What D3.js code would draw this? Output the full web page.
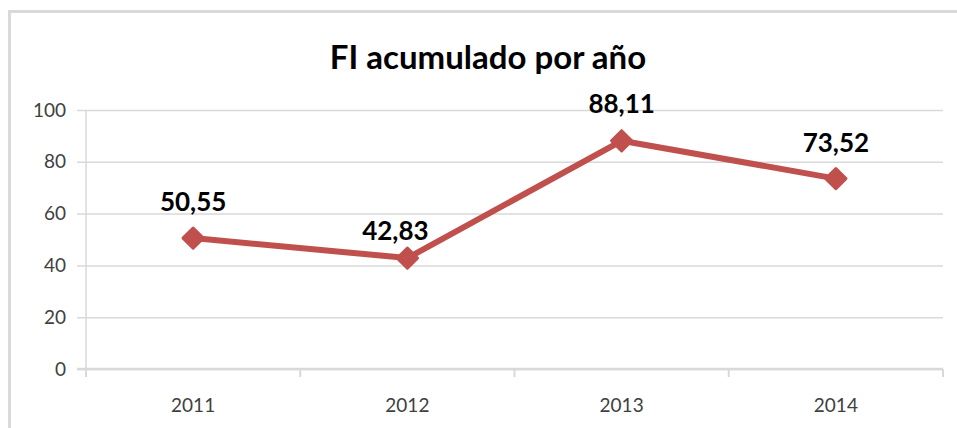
<!DOCTYPE html>
<html><head><meta charset="utf-8">
<script src="https://cdn.jsdelivr.net/npm/d3@7/dist/d3.min.js"></script>
<style>body{margin:0;background:#fff;} svg{display:block;}</style>
</head><body>
<svg id="chart" width="957" height="428"></svg>
<script>
const title = "FI acumulado por año";
const categories = ["2011", "2012", "2013", "2014"];
const values = [50.55, 42.83, 88.11, 73.52];
const valueLabels = ["50,55", "42,83", "88,11", "73,52"];
const yTicks = [0, 20, 40, 60, 80, 100];

const svg = d3.select("#chart");
const W = 957, H = 428;
const m = {left: 86, right: 14, top: 110, bottom: 59};
const x = d3.scaleBand().domain(categories).range([m.left, W - m.right]);
const y = d3.scaleLinear().domain([0, 100]).range([H - m.bottom, m.top]);
const font = "Lato, 'Open Sans', sans-serif";

// chart border
svg.append("path").attr("d", `M9.5,${H} V11.5 H${W}`).attr("fill", "none")
  .attr("stroke", "#d9d9d9").attr("stroke-width", 3);

// title
svg.append("text").attr("x", 488).attr("y", 69).attr("text-anchor", "middle")
  .attr("font-family", font).attr("font-weight", "bold")
  .attr("font-size", 33).attr("fill", "#000").text(title);

// gridlines + y axis
const yAxis = d3.axisLeft(y).tickValues(yTicks).tickSize(0).tickPadding(20);
const gy = svg.append("g").attr("transform", `translate(${m.left},0)`).call(yAxis);
gy.select(".domain").remove();
gy.selectAll(".tick line").attr("stroke", "#d9d9d9").attr("stroke-width", 1.5)
  .attr("x1", -9).attr("x2", W - m.right - m.left);
gy.selectAll(".tick text").attr("font-family", font)
  .attr("font-size", 19).attr("fill", "#404040");

// vertical y axis line
svg.append("line").attr("x1", m.left).attr("x2", m.left).attr("y1", m.top).attr("y2", y(0) + 8)
  .attr("stroke", "#d9d9d9").attr("stroke-width", 1.5);

// x axis
const xTickPos = categories.map(c => x(c)).concat([x.range()[1]]);
const gx = svg.append("g");
gx.append("line").attr("x1", m.left - 9).attr("x2", x.range()[1]).attr("y1", y(0)).attr("y2", y(0))
  .attr("stroke", "#d9d9d9").attr("stroke-width", 2.5);
gx.selectAll("line.xt").data(xTickPos).join("line").attr("class", "xt")
  .attr("x1", d => d).attr("x2", d => d).attr("y1", y(0)).attr("y2", y(0) + 8)
  .attr("stroke", "#d9d9d9").attr("stroke-width", 2);
gx.selectAll("text").data(categories).join("text")
  .attr("x", d => x(d) + x.bandwidth() / 2).attr("y", 412).attr("text-anchor", "middle")
  .attr("font-family", font).attr("font-size", 19).attr("fill", "#404040")
  .text(d => d);

// line
const pts = categories.map((c, i) => [x(c) + x.bandwidth() / 2, y(values[i])]);
svg.append("path").attr("d", d3.line()(pts)).attr("fill", "none")
  .attr("stroke", "#c0504d").attr("stroke-width", 6).attr("stroke-linejoin", "round");

// markers
svg.selectAll("path.mk").data(pts).join("path").attr("class", "mk")
  .attr("d", d3.symbol(d3.symbolDiamond2, 260)())
  .attr("transform", d => `translate(${d[0]},${d[1]})`)
  .attr("fill", "#c0504d").attr("stroke", "#c0504d").attr("stroke-width", 3).attr("stroke-linejoin", "round");

// data labels
const labelShift = [[0, -27], [-12, -18], [0, -28], [0, -27]];
svg.selectAll("text.dl").data(pts).join("text").attr("class", "dl")
  .attr("x", (d, i) => d[0] + labelShift[i][0]).attr("y", (d, i) => d[1] + labelShift[i][1])
  .attr("text-anchor", "middle").attr("font-family", font)
  .attr("font-weight", "bold").attr("font-size", 26).attr("fill", "#000")
  .text((d, i) => valueLabels[i]);
</script>
</body></html>
